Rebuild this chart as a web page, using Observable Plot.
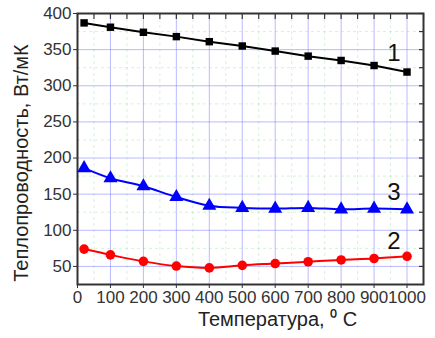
<!DOCTYPE html>
<html><head><meta charset="utf-8">
<script src="https://cdn.jsdelivr.net/npm/d3@7"></script>
<script src="https://cdn.jsdelivr.net/npm/@observablehq/plot@0.6"></script>
<style>body{margin:0;background:#fff;} svg{display:block;}</style>
</head><body><div id="chart"></div>
<script>
const temps = [20,100,200,300,400,500,600,700,800,900,1000];
const series1 = [387,381,374,368,361,355,348,341,335,328,319];
const series2 = [74,66,57,50.5,48,51.5,54,56.5,59,61,64];
const series3 = [186,172,161,146,134,131,130,131,129,130,129];
const xTicks = [0,100,200,300,400,500,600,700,800,900,1000];
const yTicks = [50,100,150,200,250,300,350,400];
const xMinor = [50,150,250,350,450,550,650,750,850,950,1050];
const yMinor = [75,125,175,225,275,325,375];
const xLabel = "Температура, \u2070 C";
const yLabel = "Теплопроводность, Вт/мК";
const curveLabels = [{t:"1", x:960, y:345},{t:"3", x:960, y:153},{t:"2", x:960, y:85}];

const d1 = temps.map((t,i)=>({t, v:series1[i]}));
const d2 = temps.map((t,i)=>({t, v:series2[i]}));
const d3s = temps.map((t,i)=>({t, v:series3[i]}));
const font = "Liberation Sans, Arial, sans-serif";

const chart = Plot.plot({
  width: 435, height: 338,
  marginLeft: 77, marginRight: 12, marginTop: 13, marginBottom: 54,
  style: {fontFamily: font, fontSize: "17px", color: "#333", background: "#fff"},
  x: {domain: [0,1050]},
  y: {domain: [25,400]},
  marks: [
    Plot.gridX(xMinor, {stroke: "#9be89b", strokeOpacity: 0.45, strokeDasharray: "3,3"}),
    Plot.gridY(yMinor, {stroke: "#9be89b", strokeOpacity: 0.45, strokeDasharray: "3,3"}),
    Plot.gridX(xTicks.slice(1), {stroke: "#7777ff", strokeOpacity: 0.5}),
    Plot.gridY(yTicks.slice(0,-1), {stroke: "#7777ff", strokeOpacity: 0.5}),
    Plot.axisX({ticks: xTicks, tickSize: 4, tickPadding: 2, label: null, tickFormat: d => String(d), fontSize: 17, fill: "#333"}),
    Plot.axisY({ticks: yTicks, tickSize: 4, tickPadding: 2, label: null, tickFormat: d => String(d), fontSize: 17, fill: "#333"}),
    Plot.axisX({anchor: "top", ticks: xMinor.concat(xTicks), tickSize: 5, dy: 5, tickFormat: () => "", label: null, stroke: "#333", strokeWidth: 1.2}),
    Plot.axisY({anchor: "right", ticks: yMinor.concat(yTicks), tickSize: 5, dx: -5, tickFormat: () => "", label: null, stroke: "#333", strokeWidth: 1.2}),
    Plot.frame({stroke: "#333", strokeWidth: 2}),
    Plot.line(d1, {x: "t", y: "v", stroke: "#000", strokeWidth: 2}),
    Plot.dot(d1, {x: "t", y: "v", symbol: "square", r: 4.2, fill: "#000"}),
    Plot.line(d3s, {x: "t", y: "v", stroke: "#0000ff", strokeWidth: 2, curve: "catmull-rom"}),
    Plot.dot(d3s, {x: "t", y: "v", symbol: "triangle", r: 5.2, fill: "#0000ff"}),
    Plot.line(d2, {x: "t", y: "v", stroke: "#ff0000", strokeWidth: 2, curve: "catmull-rom"}),
    Plot.dot(d2, {x: "t", y: "v", r: 4.8, fill: "#ff0000"}),
    Plot.text(curveLabels, {x: "x", y: "y", text: "t", fontSize: 24, fill: "#111"}),
    Plot.text([xLabel], {frameAnchor: "bottom", text: d => d, textAnchor: "middle", dy: 41, dx: 27, fontSize: 20, fill: "#222"}),
    Plot.text([yLabel], {frameAnchor: "left", text: d => d, textAnchor: "middle", rotate: -90, dx: -56, dy: 14, fontSize: 20, fill: "#222", letterSpacing: "0.9px"})
  ]
});
document.getElementById("chart").appendChild(chart);
</script></body></html>
